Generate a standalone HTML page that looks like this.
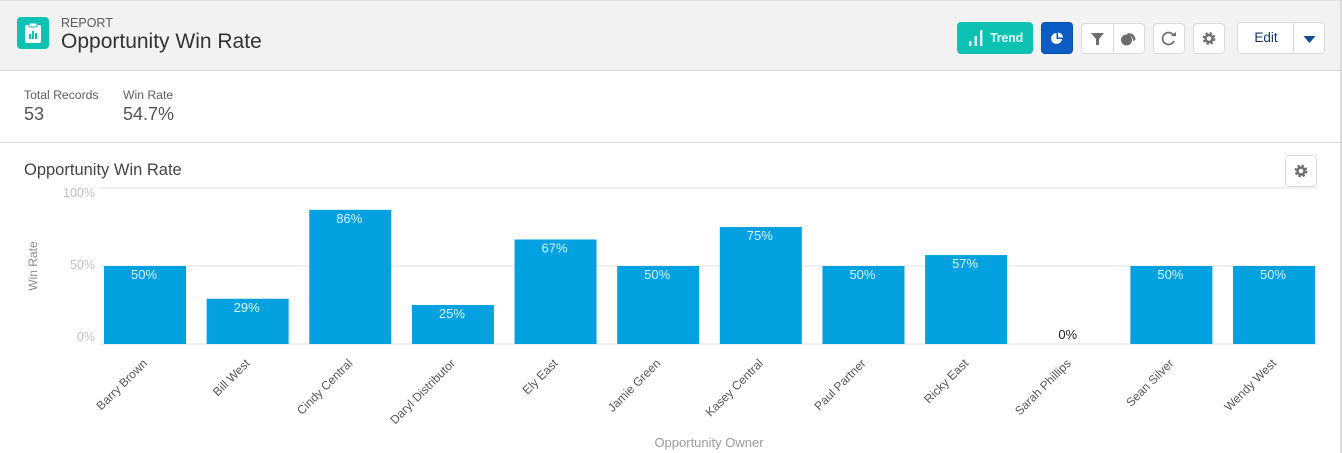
<!DOCTYPE html>
<html lang="en">
<head>
<meta charset="utf-8">
<title>Opportunity Win Rate</title>
<style>
html,body{margin:0;padding:0;background:#fff;}
body{width:1342px;height:453px;position:relative;overflow:hidden;font-family:"Liberation Sans",sans-serif;color:#3e3e3c;}
.abs{position:absolute;}
.btn{position:absolute;box-sizing:border-box;background:#fff;border:1px solid #dddbda;border-radius:4px;}
svg{display:block;}
</style>
</head>
<body>
<div class="abs" style="left:0;top:0;width:1342px;height:71px;background:#f3f2f2;border-top:1px solid #dfe3e6;border-bottom:1px solid #d6d4d3;box-sizing:border-box;"></div>
<div class="abs" style="left:1340px;top:0;width:2px;height:453px;background:#dcdcdc;"></div>

<div class="abs" style="left:17px;top:17px;width:32px;height:32px;background:#0dc2b3;border-radius:4px;">
<svg width="32" height="32" viewBox="0 0 32 32"><rect x="8" y="8" width="16" height="18" rx="2" fill="#fff"/><rect x="12" y="6" width="8" height="4" rx="1" fill="#fff" stroke="#0dc2b3"/><rect x="12" y="17" width="2" height="5" fill="#0dc2b3"/><rect x="15" y="14" width="2" height="8" fill="#0dc2b3"/><rect x="18" y="16" width="2" height="6" fill="#0dc2b3"/></svg>
</div>
<div class="abs" style="left:61px;top:16px;font-size:12.500px;line-height:15px;color:#5c5a58;">REPORT</div>
<div class="abs" style="left:61px;top:30px;font-size:21px;line-height:24px;color:#333;white-space:nowrap;">Opportunity Win Rate</div>

<div class="btn" style="left:957px;top:22px;width:76px;height:32px;background:#0dc2b3;border-color:#0dc2b3;">
<svg class="abs" style="left:10px;top:6px" width="16" height="18" viewBox="0 0 16 18"><rect x="1" y="12" width="2.400" height="5" fill="#e8fbf8"/><rect x="6.500" y="7" width="2.400" height="10" fill="#e8fbf8"/><rect x="12" y="1" width="2.400" height="16" fill="#e8fbf8"/></svg>
<span class="abs" style="left:32px;top:8px;font-size:12.500px;line-height:15px;color:#e3fbf8;font-weight:bold;letter-spacing:-0.200px;">Trend</span>
</div>
<div class="btn" style="left:1041px;top:22px;width:32px;height:32px;background:#0b5cc4;border-color:#0a4ea8;">
<svg width="30" height="30" viewBox="0 0 30 30"><path d="M14.500 10a5.500 5.500 0 1 0 5.500 6h-5.500z" fill="#fff"/><path d="M16 9.500a5 5 0 0 1 5 5h-5z" fill="#fff"/></svg>
</div>
<div class="btn" style="left:1081px;top:23px;width:64px;height:31px;">
<div class="abs" style="left:31px;top:0;width:1px;height:29px;background:#dddbda;"></div>
<svg class="abs" style="left:0;top:0" width="31" height="29" viewBox="0 0 31 29"><path d="M9 9h13l-5 6v6h-3v-6z" fill="#6b6d70"/></svg>
<svg class="abs" style="left:32px;top:0" width="31" height="29" viewBox="0 0 31 29"><circle cx="12.500" cy="16" r="5.500" fill="#6b6d70"/><path d="M13 9.500a6.500 6.500 0 0 1 8.500 6.500l-2.500 1a5 5 0 0 0-5-5.500z" fill="#6b6d70"/></svg>
</div>
<div class="btn" style="left:1153px;top:23px;width:32px;height:31px;">
<svg width="30" height="29" viewBox="0 0 30 29"><path d="M20 12a6 6 0 1 0 0 5" fill="none" stroke="#6b6d70" stroke-width="1.700"/><path d="M17 12h5V8z" fill="#6b6d70"/></svg>
</div>
<div class="btn" style="left:1193px;top:23px;width:32px;height:31px;">
<svg width="30" height="29" viewBox="0 0 30 29"><circle cx="15" cy="14.500" r="3.500" fill="none" stroke="#6b6d70" stroke-width="2.400"/><circle cx="15" cy="14.500" r="5.500" fill="none" stroke="#6b6d70" stroke-width="1.800" stroke-dasharray="2.400 2.000"/></svg>
</div>
<div class="btn" style="left:1237px;top:22px;width:88px;height:32px;">
<div class="abs" style="left:0;top:7px;width:56px;text-align:center;font-size:13.500px;line-height:16px;color:#16325c;">Edit</div>
<div class="abs" style="left:55px;top:0;width:1px;height:30px;background:#dddbda;"></div>
<svg class="abs" style="left:56px;top:0" width="30" height="30" viewBox="0 0 30 30"><path d="M9.500 13h12l-6 7z" fill="#0b4f92"/></svg>
</div>

<div class="abs" style="left:24px;top:88px;font-size:12.200px;line-height:14px;color:#5f5f5d;white-space:nowrap;">Total Records</div>
<div class="abs" style="left:24px;top:104px;font-size:18px;line-height:20px;color:#555;">53</div>
<div class="abs" style="left:123px;top:88px;font-size:12.200px;line-height:14px;color:#5f5f5d;white-space:nowrap;">Win Rate</div>
<div class="abs" style="left:123px;top:104px;font-size:18px;line-height:20px;color:#555;">54.7%</div>
<div class="abs" style="left:0;top:142px;width:1342px;height:1px;background:#d8d8d8;"></div>

<div class="abs" style="left:24px;top:161px;font-size:16.500px;line-height:19px;color:#444;white-space:nowrap;">Opportunity Win Rate</div>
<div class="btn" style="left:1285px;top:155px;width:32px;height:32px;">
<svg width="30" height="30" viewBox="0 0 30 30"><circle cx="15" cy="15" r="3.500" fill="none" stroke="#6b6d70" stroke-width="2.400"/><circle cx="15" cy="15" r="5.500" fill="none" stroke="#6b6d70" stroke-width="1.800" stroke-dasharray="2.400 2.000"/></svg>
</div>

<svg id="chart" class="abs" style="left:0;top:0" width="1342" height="453" viewBox="0 0 1342 453"></svg>

<script>
var categories = ["Barry Brown","Bill West","Cindy Central","Daryl Distributor","Ely East","Jamie Green","Kasey Central","Paul Partner","Ricky East","Sarah Phillips","Sean Silver","Wendy West"];
var winRates = [50,29,86,25,67,50,75,50,57,0,50,50];
var yTicks = [0,50,100];

var svgNS = "http://www.w3.org/2000/svg";
var chart = document.getElementById("chart");
var font = '"Liberation Sans",sans-serif';
function xCenter(i){ return 145 + (1274 - 145) * i / (categories.length - 1); }
function yPos(v){ return 344 - v * 1.56; }
function yTickLabelPos(v){ return 341 - v * 1.44; }
function make(tag, attrs, text){
  var el = document.createElementNS(svgNS, tag);
  for (var k in attrs) { el.setAttribute(k, attrs[k]); }
  if (text !== undefined) { el.textContent = text; }
  chart.appendChild(el);
  return el;
}

yTicks.forEach(function(t){
  var line = make("line", {x1:100, x2:1317, y1:yPos(t), y2:yPos(t), stroke:"#e2e2e2", "stroke-width":1});
  
  
  var label = make("text", {x:95, y:yTickLabelPos(t), "text-anchor":"end", "font-family":font, "font-size":12.500, fill:"#c0c0c0"}, t + "%");
  
  
});

winRates.forEach(function(v, i){
  var cx = xCenter(i);
  var bar = make("rect", {x:cx - 41, y:yPos(v), width:82, height:344 - yPos(v), fill:"#04a1e0"});
  
  
  var inside = v > 0;
  var value = make("text", {x:cx - 1, y:inside ? yPos(v) + 13 : 339, "text-anchor":"middle", "font-family":font, "font-size":13, fill:inside ? "#d8f6ff" : "#222"}, v + "%");
  
  
  var ex = cx + 3, ey = 364;
  var cat = make("text", {x:ex, y:ey, "text-anchor":"end", transform:"rotate(-45 " + ex + " " + ey + ")", "font-family":font, "font-size":12, fill:"#54585c"}, categories[i]);
  
  
});

var yTitle = make("text", {x:37, y:266, "text-anchor":"middle", transform:"rotate(-90 37 266)", "font-family":font, "font-size":12, fill:"#8b8b8b"}, "Win Rate");


var xTitle = make("text", {x:709, y:447, "text-anchor":"middle", "font-family":font, "font-size":13, fill:"#9a9a9a"}, "Opportunity Owner");


</script>
</body>
</html>
